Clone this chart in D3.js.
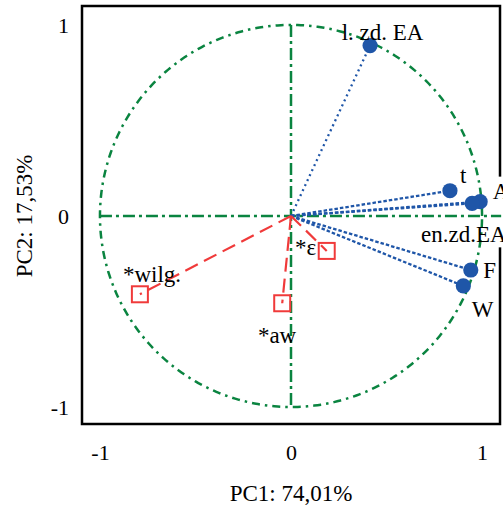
<!DOCTYPE html>
<html><head><meta charset="utf-8">
<script src="https://cdn.jsdelivr.net/npm/d3@7/dist/d3.min.js"></script>
<style>
html,body{margin:0;padding:0;background:#fff;}
svg{display:block;}
text{font-family:"Liberation Serif","Times New Roman",serif;fill:#000;}
</style>
</head><body>
<svg id="c" width="503" height="506"></svg>
<script>
// ---- data ----
const varNames = ["l. zd. EA", "t", "A", "en.zd.EA", "F", "W"];
const varPC1 = [0.414, 0.832, 0.99, 0.948, 0.941, 0.902];
const varPC2 = [0.892, 0.132, 0.075, 0.066, -0.283, -0.366];

const suppNames = ["*wilg.", "*aw", "*ε"];
const suppPC1 = [-0.791, -0.046, 0.187];
const suppPC2 = [-0.410, -0.457, -0.183];

const xTicks = [-1, 0, 1];
const yTicks = [-1, 0, 1];
const xTitle = "PC1: 74,01%";
const yTitle = "PC2: 17,53%";

// ---- layout (label offsets in px) ----
const varLabelOffset = [[12.5, -6, "middle"], [10, -8, "start"], [12.7, -3, "start"], [-51, 39, "start"], [12.6, 8, "start"], [8.5, 31, "start"]];
const suppLabelOffset = [[-17, -12.6], [-24.3, 39.7], [-31.7, 4]];

const GREEN = "#0a8440", BLUE = "#1f56a8", RED = "#f03a3a";

const svg = d3.select("#c");
const L = 82, R = 500, T = 6, B = 424;
const x = d3.scaleLinear().domain([-1.094, 1.094]).range([L, R]);
const y = d3.scaleLinear().domain([-1.089, 1.099]).range([B, T]);

// frame
svg.append("rect").attr("x", L).attr("y", T).attr("width", R - L).attr("height", B - T)
  .attr("fill", "none").attr("stroke", "#000").attr("stroke-width", 2.5);

// axes (labels only)
const fmt = d => String(d);
const gx = svg.append("g").attr("transform", `translate(0,${B})`)
  .call(d3.axisBottom(x).tickValues(xTicks).tickSize(0).tickFormat(fmt));
gx.select(".domain").remove();
gx.selectAll("text").attr("y", 36).attr("dy", 0).style("font-size", "22px")
  .style("font-family", '"Liberation Serif",serif').attr("fill", "#000");

const gy = svg.append("g").attr("transform", `translate(${L},0)`)
  .call(d3.axisLeft(y).tickValues(yTicks).tickSize(0).tickFormat(fmt));
gy.select(".domain").remove();
gy.selectAll("text").attr("x", -13).attr("dy", "0.34em").style("font-size", "22px")
  .style("font-family", '"Liberation Serif",serif').attr("fill", "#000");

svg.append("text").attr("x", x(0)).attr("y", 501).attr("text-anchor", "middle")
  .style("font-size", "23px").text(xTitle);
svg.append("text").attr("transform", `translate(32,${y(0)}) rotate(-90)`).attr("text-anchor", "middle")
  .style("font-size", "23px").text(yTitle);

// label background boxes (computed later) layer
const bgLayer = svg.append("g");

// crosshair
const cross = svg.append("g").attr("stroke", GREEN).attr("stroke-width", 2.5)
  .attr("stroke-dasharray", "12,4,3,4").attr("fill", "none");
cross.append("line").attr("x1", x(-1)).attr("x2", x(1.1)).attr("y1", y(0)).attr("y2", y(0));
cross.append("line").attr("x1", x(0)).attr("x2", x(0)).attr("y1", y(1)).attr("y2", y(-1));

// correlation circle
const circ = d3.range(0, 361, 1).map(a => [Math.cos(a * Math.PI / 180), Math.sin(a * Math.PI / 180)]);
svg.append("path").datum(circ)
  .attr("d", d3.line().x(d => x(d[0])).y(d => y(d[1])))
  .attr("fill", "none").attr("stroke", GREEN).attr("stroke-width", 2.5)
  .attr("stroke-dasharray", "8,5,2.5,5");

// variable vectors
const vars = varNames.map((n, i) => ({n, px: varPC1[i], py: varPC2[i], off: varLabelOffset[i]}));
svg.append("g").selectAll("line").data(vars).join("line")
  .attr("x1", x(0)).attr("y1", y(0)).attr("x2", d => x(d.px)).attr("y2", d => y(d.py))
  .attr("stroke", BLUE).attr("stroke-width", 2.3)
  .attr("stroke-dasharray", (d, i) => i === 0 ? "2,3.5" : "3.5,2");

// supplementary vectors
const supp = suppNames.map((n, i) => ({n, px: suppPC1[i], py: suppPC2[i], off: suppLabelOffset[i]}));
svg.append("g").selectAll("line").data(supp).join("line")
  .attr("x1", x(0)).attr("y1", y(0)).attr("x2", d => x(d.px)).attr("y2", d => y(d.py))
  .attr("stroke", RED).attr("stroke-width", 2.2).attr("stroke-dasharray", "14,7");

// points
svg.append("g").selectAll("circle").data(vars).join("circle")
  .attr("cx", d => x(d.px)).attr("cy", d => y(d.py)).attr("r", 7.6).attr("fill", BLUE);
svg.append("g").selectAll("rect").data(supp).join("rect")
  .attr("x", d => x(d.px) - 8).attr("y", d => y(d.py) - 8).attr("width", 16).attr("height", 16)
  .attr("fill", "none").attr("stroke", RED).attr("stroke-width", 2);

// labels
const vl = svg.append("g").selectAll("text").data(vars).join("text")
  .attr("x", d => x(d.px) + d.off[0]).attr("y", d => y(d.py) + d.off[1])
  .attr("text-anchor", d => d.off[2]).style("font-size", "23px").text(d => d.n);
svg.append("g").selectAll("text").data(supp).join("text")
  .attr("x", d => x(d.px) + d.off[0]).attr("y", d => y(d.py) + d.off[1])
  .style("font-size", "23px").text(d => d.n);

// white box behind the labels at the right edge (covers the frame like the reference)
const boxes = vl.filter(d => d.n === "A" || d.n === "en.zd.EA").nodes().map(n => n.getBBox());
if (boxes.length) {
  const x0 = d3.min(boxes, b => b.x) - 2, y0 = d3.min(boxes, b => b.y) - 2;
  const y1 = d3.max(boxes, b => b.y + b.height);
  bgLayer.append("rect").attr("x", x0).attr("y", y0).attr("width", 520 - x0).attr("height", y1 - y0).attr("fill", "#fff");
}
</script>
</body></html>
